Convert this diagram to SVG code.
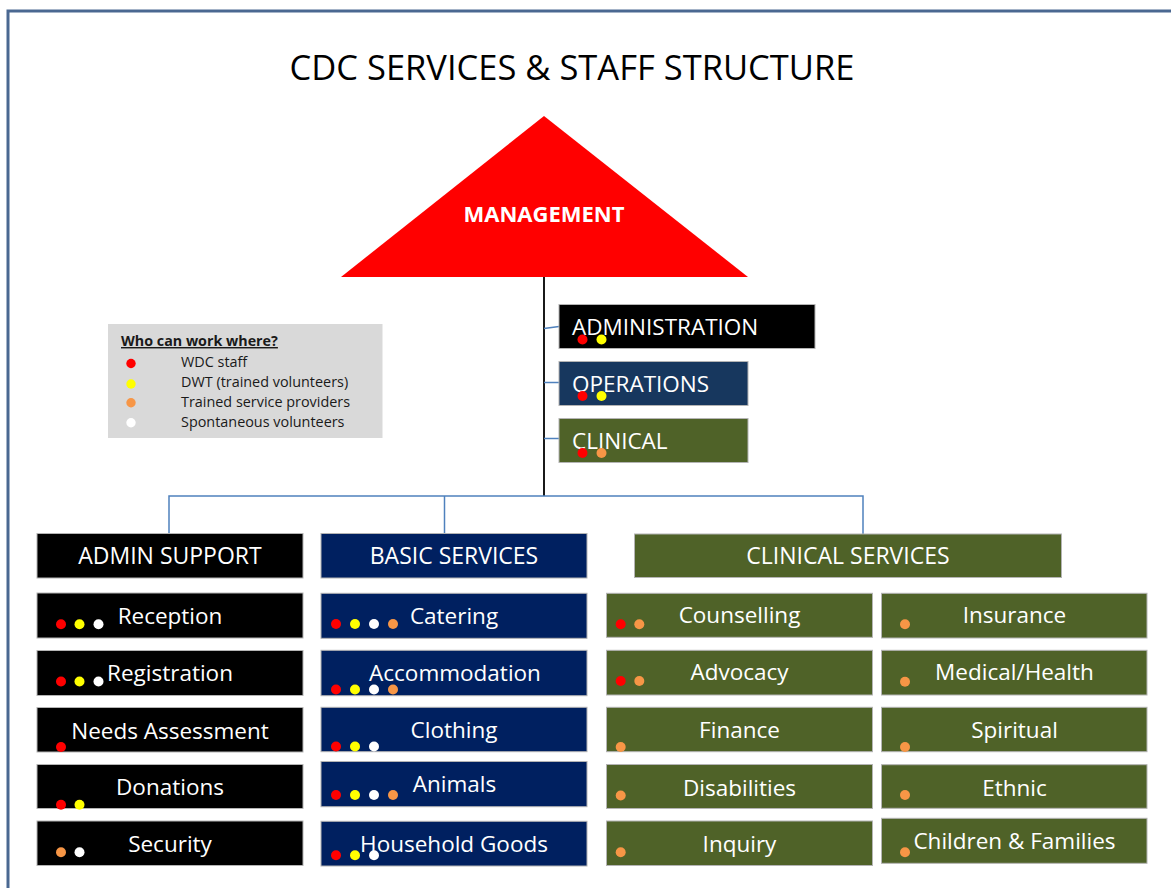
<svg xmlns="http://www.w3.org/2000/svg" width="1171" height="888" viewBox="0 0 1171 888">
  <style>
    text { font-family: "Open Sans", "Noto Sans", "Liberation Sans", sans-serif; }
    .lbl { fill: #ffffff; font-size: 22.5px; text-anchor: middle; }
    .hdr { fill: #ffffff; font-size: 23px; text-anchor: middle; }
    .top { fill: #ffffff; font-size: 22.5px; }
    .box { stroke: #b4b4b4; stroke-width: 1; }
    .blk { fill: #000000; }
    .nvy { fill: #002060; }
    .ops { fill: #17375e; }
    .grn { fill: #4f6228; }
    .r { fill: #ff0000; }
    .y { fill: #ffff00; }
    .o { fill: #f79646; }
    .w { fill: #ffffff; }
    .link { fill: none; stroke: #4f81bd; stroke-width: 1.5; }
    .leg { font-size: 14.4px; fill: #1a1a1a; }
  </style>

  <rect x="0" y="0" width="1171" height="888" fill="#ffffff"/>
  <!-- page frame -->
  <path d="M8,892 V11 H1175" fill="none" stroke="#4a6891" stroke-width="3"/>

  <text x="572" y="80" font-size="34.5" text-anchor="middle" fill="#000000">CDC SERVICES &amp; STAFF STRUCTURE</text>

  <!-- connectors -->
  <g id="connectors">
    <line x1="544" y1="276" x2="544" y2="496" stroke="#000000" stroke-width="1.8"/>
    <path class="link" d="M544,328.5 L559,326.5"/>
    <path class="link" d="M544,382.5 L559,382.5"/>
    <path class="link" d="M544,438.5 L559,438.5"/>
    <path class="link" d="M169,534 V496 H863 V534"/>
    <path class="link" d="M444.5,496 V534"/>
  </g>

  <g id="management">
    <polygon points="544,116 748,277 341,277" fill="#ff0000"/>
    <text x="544" y="222" font-size="22" font-weight="bold" text-anchor="middle" fill="#ffffff">MANAGEMENT</text>
  </g>

  <g id="legend">
    <rect x="108" y="324" width="274.5" height="114" fill="#d9d9d9"/>
    <text x="121" y="346" font-size="14.3" font-weight="bold" fill="#1a1a1a" text-decoration="underline">Who can work where?</text>
    <circle cx="131" cy="363.5" r="4.7" class="r"/>
    <circle cx="131" cy="384" r="4.7" class="y"/>
    <circle cx="131" cy="402.7" r="4.7" class="o"/>
    <circle cx="131" cy="422.7" r="4.7" class="w"/>
    <text class="leg" x="181" y="366.7">WDC staff</text>
    <text class="leg" x="181" y="387.3">DWT (trained volunteers)</text>
    <text class="leg" x="181" y="407.3">Trained service providers</text>
    <text class="leg" x="181" y="426.7">Spontaneous volunteers</text>
  </g>

  <!-- management branches -->
  <g id="administration">
    <rect class="box blk" x="559" y="304.5" width="256" height="44"/>
    <text class="top" x="572" y="334.5">ADMINISTRATION</text>
    <circle cx="582.5" cy="339.5" r="5" class="r"/>
    <circle cx="601.5" cy="339.5" r="5" class="y"/>
  </g>
  <g id="operations">
    <rect class="box ops" x="559" y="361.5" width="189" height="44"/>
    <text class="top" x="572" y="391.5">OPERATIONS</text>
    <circle cx="582.5" cy="396" r="5" class="r"/>
    <circle cx="601.5" cy="396" r="5" class="y"/>
  </g>
  <g id="clinical">
    <rect class="box grn" x="559" y="418.5" width="189" height="44"/>
    <text class="top" x="572" y="449">CLINICAL</text>
    <circle cx="582.5" cy="453" r="5" class="r"/>
    <circle cx="601.5" cy="453" r="5" class="o"/>
  </g>

  <!-- service headers -->
  <g id="admin-support">
    <rect class="box blk" x="37" y="533.5" width="266" height="44.5"/>
    <text class="hdr" x="170" y="564.3">ADMIN SUPPORT</text>
  </g>
  <g id="basic-services">
    <rect class="box nvy" x="321" y="533.5" width="266" height="44.5"/>
    <text class="hdr" x="454" y="564.3">BASIC SERVICES</text>
  </g>
  <g id="clinical-services">
    <rect class="box grn" x="634.5" y="534" width="427" height="43.5"/>
    <text class="hdr" x="848" y="564.3">CLINICAL SERVICES</text>
  </g>

  <!-- admin support units -->
  <g id="reception">
    <rect class="box blk" x="37" y="593" width="266" height="45"/>
    <text class="lbl" x="170" y="624">Reception</text>
    <circle cx="61" cy="624.3" r="5" class="r"/>
    <circle cx="79.5" cy="624.3" r="5" class="y"/>
    <circle cx="98.5" cy="624.3" r="5" class="w"/>
  </g>
  <g id="registration">
    <rect class="box blk" x="37" y="650.5" width="266" height="45"/>
    <text class="lbl" x="170" y="681">Registration</text>
    <circle cx="61" cy="681.5" r="5" class="r"/>
    <circle cx="79.5" cy="681.5" r="5" class="y"/>
    <circle cx="98.5" cy="681.5" r="5" class="w"/>
  </g>
  <g id="needs-assessment">
    <rect class="box blk" x="37" y="707.5" width="266" height="44.5"/>
    <text class="lbl" x="170" y="738.5">Needs Assessment</text>
    <circle cx="61" cy="747" r="5" class="r"/>
  </g>
  <g id="donations">
    <rect class="box blk" x="37" y="764.5" width="266" height="44"/>
    <text class="lbl" x="170" y="795">Donations</text>
    <circle cx="61" cy="804.7" r="5" class="r"/>
    <circle cx="79.5" cy="804.7" r="5" class="y"/>
  </g>
  <g id="security">
    <rect class="box blk" x="37" y="821" width="266" height="44.5"/>
    <text class="lbl" x="170" y="852">Security</text>
    <circle cx="61" cy="852.3" r="5" class="o"/>
    <circle cx="79.5" cy="852.3" r="5" class="w"/>
  </g>

  <!-- basic services units -->
  <g id="catering">
    <rect class="box nvy" x="321" y="593.3" width="266" height="45"/>
    <text class="lbl" x="454" y="623.5">Catering</text>
    <circle cx="336" cy="624" r="5" class="r"/>
    <circle cx="355" cy="624" r="5" class="y"/>
    <circle cx="374" cy="624" r="5" class="w"/>
    <circle cx="393" cy="624" r="5" class="o"/>
  </g>
  <g id="accommodation">
    <rect class="box nvy" x="321" y="650.3" width="266" height="45.4"/>
    <text class="lbl" x="455" y="681">Accommodation</text>
    <circle cx="336" cy="689.5" r="5" class="r"/>
    <circle cx="355" cy="689.5" r="5" class="y"/>
    <circle cx="374" cy="689.5" r="5" class="w"/>
    <circle cx="393" cy="689.5" r="5" class="o"/>
  </g>
  <g id="clothing">
    <rect class="box nvy" x="321" y="707.3" width="266" height="44.4"/>
    <text class="lbl" x="454" y="738.3">Clothing</text>
    <circle cx="336" cy="746.5" r="5" class="r"/>
    <circle cx="355" cy="746.5" r="5" class="y"/>
    <circle cx="374" cy="746.5" r="5" class="w"/>
  </g>
  <g id="animals">
    <rect class="box nvy" x="321" y="761.5" width="266" height="45.2"/>
    <text class="lbl" x="454.5" y="792.3">Animals</text>
    <circle cx="336" cy="795" r="5" class="r"/>
    <circle cx="355" cy="795" r="5" class="y"/>
    <circle cx="374" cy="795" r="5" class="w"/>
    <circle cx="393" cy="795" r="5" class="o"/>
  </g>
  <g id="household-goods">
    <rect class="box nvy" x="321" y="821.3" width="266" height="44.7"/>
    <text class="lbl" x="454" y="851.7">Household Goods</text>
    <circle cx="336" cy="855.3" r="5" class="r"/>
    <circle cx="355" cy="855.3" r="5" class="y"/>
    <circle cx="374" cy="855.3" r="5" class="w"/>
  </g>

  <!-- clinical services units, left column -->
  <g id="counselling">
    <rect class="box grn" x="606.5" y="593.3" width="266" height="44"/>
    <text class="lbl" x="739.5" y="623.3">Counselling</text>
    <circle cx="620.7" cy="624.3" r="5" class="r"/>
    <circle cx="639.3" cy="624.3" r="5" class="o"/>
  </g>
  <g id="advocacy">
    <rect class="box grn" x="606.5" y="650.3" width="266" height="44.7"/>
    <text class="lbl" x="739.5" y="680.3">Advocacy</text>
    <circle cx="620.7" cy="681" r="5" class="r"/>
    <circle cx="639.3" cy="681" r="5" class="o"/>
  </g>
  <g id="finance">
    <rect class="box grn" x="606.5" y="707.3" width="266" height="44.4"/>
    <text class="lbl" x="739.5" y="738.3">Finance</text>
    <circle cx="620.7" cy="747" r="5" class="o"/>
  </g>
  <g id="disabilities">
    <rect class="box grn" x="606.5" y="764.5" width="266" height="44"/>
    <text class="lbl" x="739.5" y="795.5">Disabilities</text>
    <circle cx="620.7" cy="795.5" r="5" class="o"/>
  </g>
  <g id="inquiry">
    <rect class="box grn" x="606.5" y="821" width="266" height="44.5"/>
    <text class="lbl" x="739.5" y="851.7">Inquiry</text>
    <circle cx="620.7" cy="852.3" r="5" class="o"/>
  </g>

  <!-- clinical services units, right column -->
  <g id="insurance">
    <rect class="box grn" x="881.5" y="593.3" width="265.5" height="44.7"/>
    <text class="lbl" x="1014.5" y="623.3">Insurance</text>
    <circle cx="905" cy="624.3" r="5" class="o"/>
  </g>
  <g id="medical-health">
    <rect class="box grn" x="881.5" y="650.3" width="265.5" height="44.7"/>
    <text class="lbl" x="1014.5" y="680.3">Medical/Health</text>
    <circle cx="905" cy="681.7" r="5" class="o"/>
  </g>
  <g id="spiritual">
    <rect class="box grn" x="881.5" y="707.3" width="265.5" height="44.4"/>
    <text class="lbl" x="1014.5" y="738.3">Spiritual</text>
    <circle cx="905" cy="747" r="5" class="o"/>
  </g>
  <g id="ethnic">
    <rect class="box grn" x="881.5" y="764.7" width="265.5" height="43.6"/>
    <text class="lbl" x="1014.5" y="796">Ethnic</text>
    <circle cx="905" cy="795" r="5" class="o"/>
  </g>
  <g id="children-families">
    <rect class="box grn" x="881.5" y="818.3" width="265.5" height="45"/>
    <text class="lbl" x="1014.5" y="849.3">Children &amp; Families</text>
    <circle cx="905" cy="852.3" r="5" class="o"/>
  </g>
</svg>
